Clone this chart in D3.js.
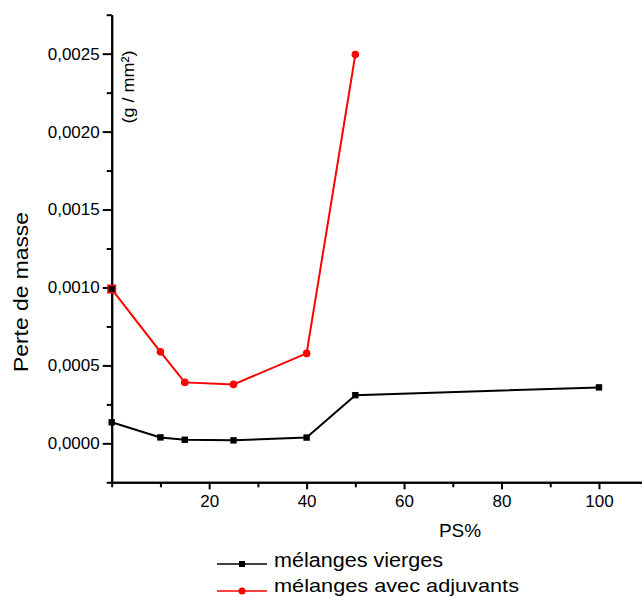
<!DOCTYPE html>
<html lang="fr">
<head>
<meta charset="utf-8">
<title>Perte de masse</title>
<script src="https://cdn.jsdelivr.net/npm/d3@7"></script>
<style>
body {
  margin: 0;
  background-color: #ffffff;
}
text {
  font-family: "Liberation Sans", Arial, sans-serif;
  fill: #000;
}
.axis path,
.axis line {
  fill: none;
  stroke: #000;
  stroke-width: 2px;
}
</style>
</head>
<body>
<svg width="642" height="597"></svg>
<script>
// donnees
var psVierges = [0, 10, 15, 25, 40, 50, 100];
var perteVierges = [0.000135, 0.000038, 0.000023, 0.000019, 0.000037, 0.000309, 0.000359];

var psAdjuvants = [0, 10, 15, 25, 40, 50];
var perteAdjuvants = [0.00099, 0.000587, 0.000391, 0.000378, 0.000577, 0.002494];

var xTicks = [20, 40, 60, 80, 100];
var xMinor = [0, 10, 30, 50, 70, 90, 110];
var yTicks = [0, 0.0005, 0.0010, 0.0015, 0.0020, 0.0025];
var yMinor = [-0.00025, 0.00025, 0.00075, 0.00125, 0.00175, 0.00225, 0.00275];

var seriesNames = ["mélanges vierges", "mélanges avec adjuvants"];

var svg = d3.select("svg");

var x = d3.scaleLinear().domain([0, 110]).range([111.7, 647.7]);
var y = d3.scaleLinear().domain([-0.00025, 0.00275]).range([482.3, 14.7]);

var fmt = function(d) { return d3.format(".4f")(d).replace(".", ","); };

// axe Y
svg.append("g")
    .attr("class", "axis")
    .attr("transform", "translate(" + x(0) + ",0)")
    .call(d3.axisLeft(y).tickValues(yMinor).tickSize(5).tickSizeOuter(0).tickFormat(""));
var gy = svg.append("g")
    .attr("class", "axis")
    .attr("transform", "translate(" + x(0) + ",0)")
    .call(d3.axisLeft(y).tickValues(yTicks).tickSize(9).tickSizeOuter(0).tickFormat(fmt));
gy.selectAll("text")
    .attr("x", -12)
    .style("font-size", "17px")
    .style("font-family", "Liberation Sans, Arial, sans-serif");

// axe X
svg.append("g")
    .attr("class", "axis")
    .attr("transform", "translate(0," + y(-0.00025) + ")")
    .call(d3.axisBottom(x).tickValues(xMinor).tickSize(5).tickSizeOuter(0).tickFormat(""));
var gx = svg.append("g")
    .attr("class", "axis")
    .attr("transform", "translate(0," + y(-0.00025) + ")")
    .call(d3.axisBottom(x).tickValues(xTicks).tickSize(7).tickSizeOuter(0).tickFormat(d3.format("d")));
gx.selectAll("text")
    .attr("y", 13)
    .style("font-size", "17px")
    .style("font-family", "Liberation Sans, Arial, sans-serif");

// titres
svg.append("text")
    .attr("x", 460)
    .attr("y", 537)
    .attr("text-anchor", "middle")
    .style("font-size", "19px")
    .text("PS%");

svg.append("text")
    .attr("transform", "translate(28,292) rotate(-90)")
    .attr("text-anchor", "middle")
    .attr("textLength", 160)
    .attr("lengthAdjust", "spacingAndGlyphs")
    .style("font-size", "21px")
    .text("Perte de masse");

svg.append("text")
    .attr("transform", "translate(134,87) rotate(-90)")
    .attr("text-anchor", "middle")
    .attr("textLength", 73)
    .attr("lengthAdjust", "spacingAndGlyphs")
    .style("font-size", "17px")
    .text("(g / mm²)");

var line = d3.line()
    .x(function(d) { return x(d[0]); })
    .y(function(d) { return y(d[1]); });

var vierges = d3.zip(psVierges, perteVierges);
var adjuvants = d3.zip(psAdjuvants, perteAdjuvants);

// courbe rouge
svg.append("path")
    .datum(adjuvants)
    .attr("fill", "none")
    .attr("stroke", "#ff0000")
    .attr("stroke-width", 2)
    .attr("d", line);

svg.selectAll(".pt-adj")
    .data(adjuvants.slice(1))
  .enter().append("circle")
    .attr("class", "pt-adj")
    .attr("cx", function(d) { return x(d[0]); })
    .attr("cy", function(d) { return y(d[1]); })
    .attr("r", 3.8)
    .attr("fill", "#ff0000");

// premier point rouge : carre
svg.append("rect")
    .attr("x", x(adjuvants[0][0]) - 4.5)
    .attr("y", y(adjuvants[0][1]) - 4.5)
    .attr("width", 9)
    .attr("height", 9)
    .attr("fill", "#ff0000");
svg.append("rect")
    .attr("x", x(adjuvants[0][0]) - 3)
    .attr("y", y(adjuvants[0][1]) - 3)
    .attr("width", 6)
    .attr("height", 6)
    .attr("fill", "#000");

// courbe noire
svg.append("path")
    .datum(vierges)
    .attr("fill", "none")
    .attr("stroke", "#000")
    .attr("stroke-width", 2)
    .attr("d", line);

svg.selectAll(".pt-vie")
    .data(vierges)
  .enter().append("rect")
    .attr("class", "pt-vie")
    .attr("x", function(d) { return x(d[0]) - 3.2; })
    .attr("y", function(d) { return y(d[1]) - 3.2; })
    .attr("width", 6.4)
    .attr("height", 6.4)
    .attr("fill", "#000");

// legende
var legend = svg.append("g");
var colors = ["#000", "#ff0000"];
var rows = [564, 591];
var widths = [169, 245];

seriesNames.forEach(function(name, i) {
  legend.append("line")
      .attr("x1", 217).attr("x2", 267)
      .attr("y1", rows[i]).attr("y2", rows[i])
      .attr("stroke", colors[i])
      .attr("stroke-width", 1.3);
  if (i == 0) {
    legend.append("rect")
        .attr("x", 239).attr("y", rows[i] - 3)
        .attr("width", 6).attr("height", 6)
        .attr("fill", colors[i]);
  } else {
    legend.append("circle")
        .attr("cx", 242).attr("cy", rows[i])
        .attr("r", 3.5)
        .attr("fill", colors[i]);
  }
  legend.append("text")
      .attr("x", 274)
      .attr("y", i == 0 ? rows[i] + 3 : rows[i] + 1)
      .attr("textLength", widths[i])
      .attr("lengthAdjust", "spacingAndGlyphs")
      .style("font-size", i == 0 ? "20px" : "19px")
      .text(name);
});
</script>
</body>
</html>
